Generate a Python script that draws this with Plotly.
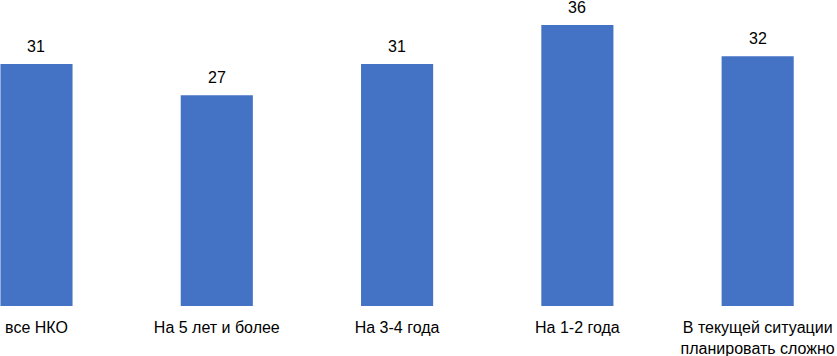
import plotly.graph_objects as go

categories = ["все НКО", "На 5 лет и более", "На 3-4 года", "На 1-2 года",
              "В текущей ситуации<br>планировать сложно"]
values = [31, 27, 31, 36, 32]

FONT = "Liberation Sans, Arial"

fig = go.Figure(go.Bar(
    x=list(range(len(categories))), y=values,
    marker=dict(color="#4472C4", line=dict(width=0)),
    width=0.4, hoverinfo="skip"))

for i, v in enumerate(values):
    fig.add_annotation(x=i, y=v, text=str(v), showarrow=False,
                       yanchor="bottom", yshift=7,
                       font=dict(family=FONT, size=16, color="#000000"))

fig.update_layout(
    width=837, height=356,
    margin=dict(l=0, r=0, t=0, b=50, autoexpand=False),
    paper_bgcolor="white", plot_bgcolor="white",
    showlegend=False,
    font=dict(family=FONT, size=16, color="#000000"),
    xaxis=dict(range=[-0.2024, 4.44], tickmode="array", automargin=False,
               tickvals=list(range(len(categories))), ticktext=categories,
               showgrid=False, zeroline=False, showline=False, ticks="",
               ticklabelstandoff=10,
               tickfont=dict(family=FONT, size=16, color="#000000")),
    yaxis=dict(range=[0, 39.2], visible=False, automargin=False),
)

fig.write_html("out.html", config={"displayModeBar": False},
               post_script="document.body.style.margin='0';document.body.style.overflow='hidden';")
